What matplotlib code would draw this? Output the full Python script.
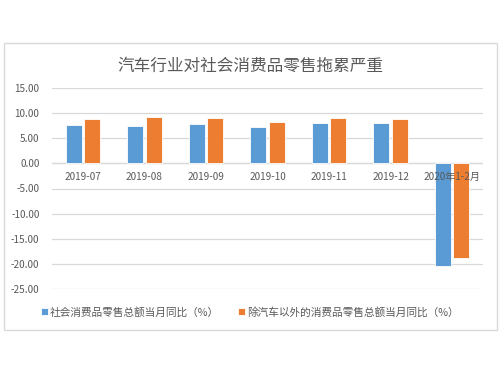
import matplotlib
matplotlib.use("Agg")
import matplotlib.pyplot as plt
from matplotlib.patches import Rectangle
import numpy as np

plt.rcParams['font.family'] = ['Noto Sans CJK SC', 'DejaVu Sans']

categories = ["2019-07", "2019-08", "2019-09", "2019-10", "2019-11", "2019-12", "2020年1-2月"]
retail_total = [7.6, 7.5, 7.8, 7.2, 8.0, 8.0, -20.5]
retail_ex_auto = [8.8, 9.3, 9.0, 8.3, 9.1, 8.8, -18.9]
series_names = ["社会消费品零售总额当月同比（%）", "除汽车以外的消费品零售总额当月同比（%）"]
title = "汽车行业对社会消费品零售拖累严重"
yticks = [15, 10, 5, 0, -5, -10, -15, -20, -25]

blue = "#5B9BD5"
orange = "#ED7D31"
grid_c = "#D9D9D9"
text_c = "#595959"

fig = plt.figure(figsize=(5, 3.75), dpi=100)
fig.patch.set_facecolor("white")
# outer chart border
fig.patches.append(Rectangle((4/500, 1-330/375), (497-4)/500, (330-43)/375,
                             transform=fig.transFigure, fill=False,
                             edgecolor="#D9D9D9", linewidth=1.0))

ax = fig.add_axes([52/500, 1-289/375, (483-52)/500, (289-88)/375])
x = np.arange(len(categories))
w = 0.26
ax.bar(x - w/2 - 0.02, retail_total, width=w, color=blue, edgecolor="white", linewidth=0.6,
       label=series_names[0], zorder=3)
ax.bar(x + w/2 + 0.02, retail_ex_auto, width=w, color=orange, edgecolor="white", linewidth=0.6,
       label=series_names[1], zorder=3)

ax.set_xlim(-0.5, len(categories) - 0.5)
ax.set_ylim(-25, 15)
ax.set_yticks(yticks)
ax.set_yticklabels([f"{v:.2f}" for v in yticks], color=text_c, fontsize=7.2)
ax.tick_params(axis="y", length=0, pad=9)
ax.set_xticks([])
for sp in ax.spines.values():
    sp.set_visible(False)
ax.grid(axis="y", color=grid_c, linewidth=0.9, zorder=0)
ax.axhline(0, color=grid_c, linewidth=0.9, zorder=1)
for i, c in enumerate(categories):
    ax.text(x[i], -2.8, c, ha="center", va="center", fontsize=7.2, color=text_c, zorder=4)

fig.text(0.5, 1-66/375, title, ha="center", va="center", fontsize=12, color=text_c)

leg = fig.legend(loc="center", bbox_to_anchor=(0.5, 1-312/375), ncol=2, frameon=False,
                 fontsize=7.7, handlelength=0.6, handleheight=0.6, handletextpad=0.2,
                 columnspacing=1.8, labelcolor=text_c)

fig.savefig("out.png", dpi=100)
